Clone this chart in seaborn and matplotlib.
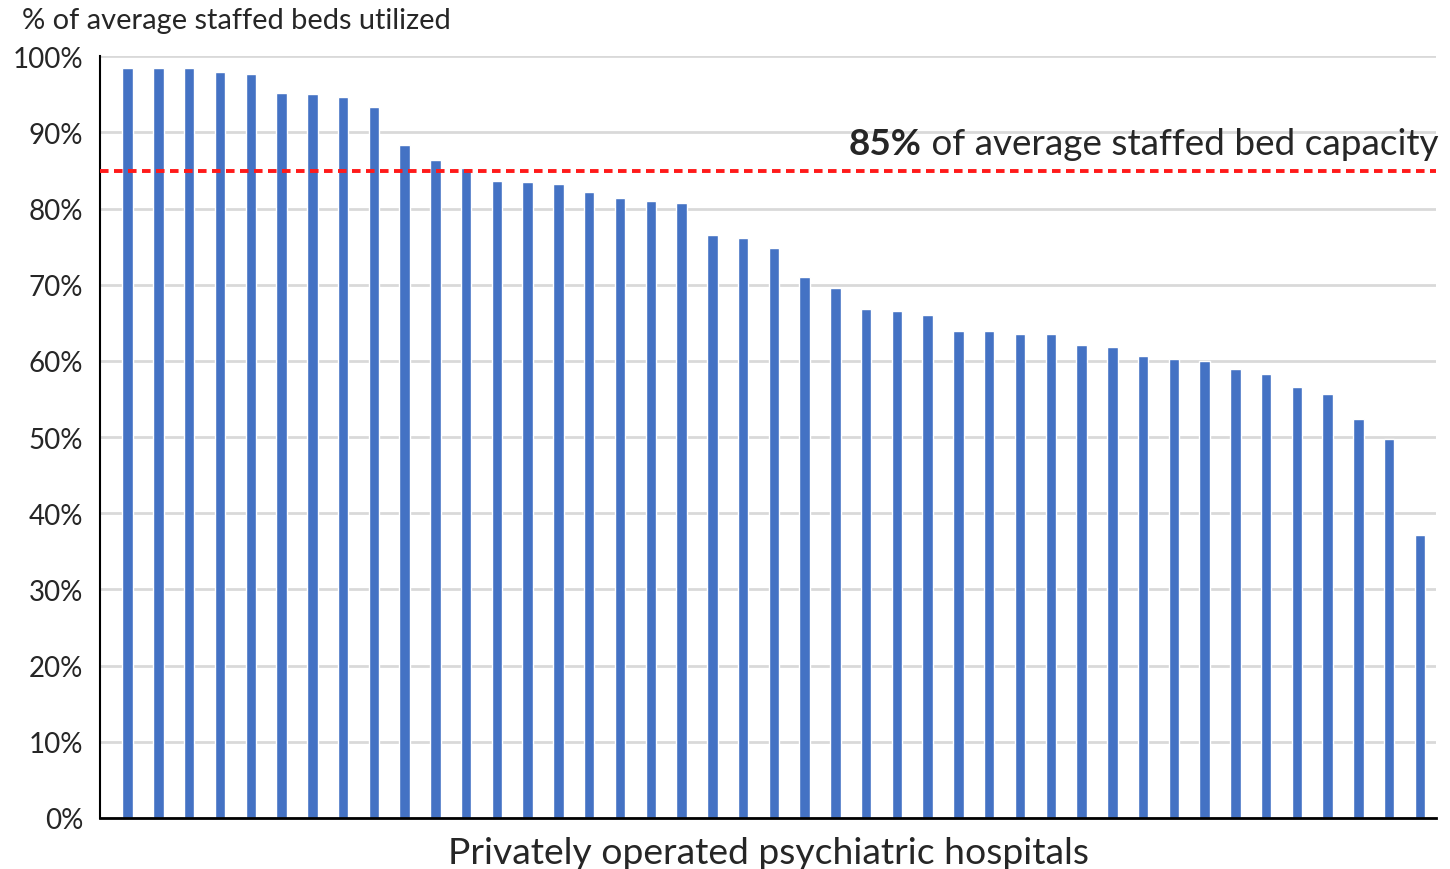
import pandas as pd
import numpy as np
import matplotlib
matplotlib.use("Agg")
import matplotlib.pyplot as plt
import seaborn as sns

# % of average staffed beds utilized, one bar per private psychiatric hospital (sorted)
utilization = [98.5, 98.5, 98.4, 98.0, 97.7, 95.2, 95.0, 94.7, 93.4, 88.3,
               86.4, 85.3, 83.6, 83.5, 83.2, 82.2, 81.4, 81.0, 80.7, 76.5,
               76.2, 74.8, 71.0, 69.6, 66.8, 66.5, 66.1, 64.0, 63.9, 63.6,
               63.5, 62.1, 61.9, 60.6, 60.3, 60.0, 58.9, 58.3, 56.6, 55.6,
               52.4, 49.7, 37.1]
hospitals = [f"H{i + 1}" for i in range(len(utilization))]
threshold = 85
y_ticks = list(range(0, 101, 10))
y_tick_labels = [f"{t}%" for t in y_ticks]

df = pd.DataFrame({"hospital": hospitals, "utilization": utilization})

sns.set_style("white")
plt.rcParams["font.family"] = ["Lato", "DejaVu Sans"]

fig = plt.figure(figsize=(14.5, 8.7), dpi=100)
ax = fig.add_axes([100 / 1450, 1 - 819 / 870, 1336 / 1450, (819 - 57.3) / 870])

ax.set_axisbelow(True)
ax.yaxis.grid(True, color="#d9d9d9", linewidth=2)
sns.barplot(data=df, x="hospital", y="utilization", color="#4472c4",
            saturation=1, width=0.34, ax=ax)

ax.axhline(threshold, color="#ff1a1a", linewidth=2.8, linestyle=(0, (2.2, 1.4)), zorder=3)

ax.set_ylim(0, 100)
ax.set_xlim(-0.9, len(utilization) - 0.48)
ax.set_yticks(y_ticks)
ax.set_yticklabels(y_tick_labels, fontsize=20)
ax.set_xticks([])
ax.tick_params(axis="y", length=0, pad=12)
ax.set_ylabel("")
ax.set_xlabel("Privately operated psychiatric hospitals", fontsize=26.8, labelpad=13)

for side in ["top", "right"]:
    ax.spines[side].set_visible(False)
ax.spines["left"].set_color("black")
ax.spines["left"].set_linewidth(1.5)
ax.spines["bottom"].set_color("black")
ax.spines["bottom"].set_linewidth(2)

fig.text(22 / 1450, 1 - 21 / 870, "% of average staffed beds utilized",
         fontsize=20.9, va="center", ha="left")

# annotation: bold "85%" followed by regular text, right aligned
rest = ax.text(1.0015, 87.2, " of average staffed bed capacity", transform=ax.get_yaxis_transform(),
               fontsize=26.6, ha="right", va="baseline")
fig.canvas.draw()
bb = rest.get_window_extent()
x_left = ax.transAxes.inverted().transform((bb.x0, bb.y0))[0]
ax.text(x_left, 87.2, "85%", transform=ax.get_yaxis_transform(), fontsize=26.6,
        fontweight="bold", ha="right", va="baseline")

fig.savefig("out.png", dpi=100)
